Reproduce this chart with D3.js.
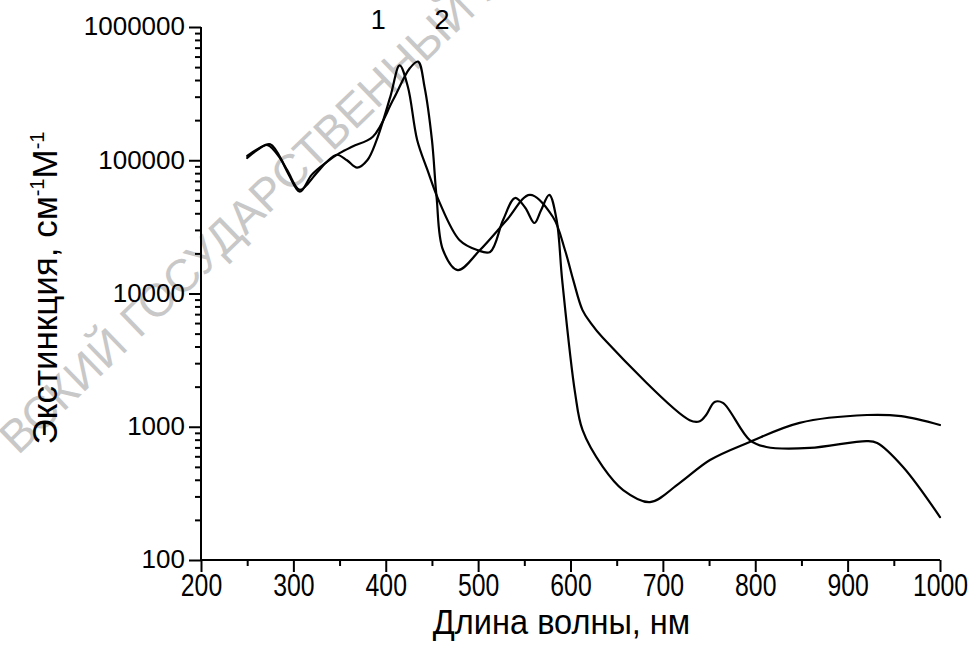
<!DOCTYPE html>
<html>
<head>
<meta charset="utf-8">
<script src="https://cdn.jsdelivr.net/npm/d3@7"></script>
<style>
  body { margin: 0; background: #fff; }
  svg { display: block; }
</style>
</head>
<body>
<div id="chart"></div>
<script>
//// data
// curve 1 (peak near 415 nm)
const wl1 = [250, 262, 275, 293, 307, 325, 336, 347, 358, 369, 380, 390, 405, 415, 424, 434, 445, 458, 480, 499, 513, 527, 540, 551, 561, 568, 577, 585, 591, 605, 613, 635, 657, 686, 718, 751, 794, 848, 921, 958, 1000]
const ext1 = [108000, 122000, 132000, 85000, 60000, 80000, 97000, 110000, 100000, 88000, 100000, 141000, 300000, 515000, 355000, 142000, 85000, 48700, 25100, 21200, 20500, 35600, 52100, 44000, 33800, 42000, 55000, 35600, 12600, 1790, 946, 500, 335, 272, 378, 563, 769, 1070, 1225, 1200, 1030]
// curve 2 (peak near 435 nm)
const wl2 = [250, 260, 272, 285, 295, 307, 320, 336, 350, 364, 386, 408, 426, 435, 442, 450, 455, 462, 478, 502, 531, 556, 581, 594, 603, 613, 622, 635, 729, 740, 747, 756, 765, 794, 812, 859, 921, 932, 960, 1000]
const ext2 = [104000, 118000, 130000, 105000, 78000, 58000, 78000, 97000, 113000, 127000, 150000, 284000, 490000, 550000, 355000, 142000, 53000, 21200, 15000, 21200, 35600, 55000, 37500, 21200, 12600, 7500, 6000, 4650, 1120, 1100, 1230, 1535, 1510, 795, 705, 693, 781, 755, 499, 210]
const curveLabels = ["1", "2"]
const xTicks = [200, 300, 400, 500, 600, 700, 800, 900, 1000]
const yTicks = [100, 1000, 10000, 100000, 1000000]

let width = 976
let height = 661
let margin = {top: 27, right: 36, bottom: 101, left: 201}

let x = d3.scaleLinear().domain([200, 1000]).range([margin.left, width - margin.right])
let y = d3.scaleLog().domain([100, 1000000]).range([height - margin.bottom, margin.top])

// minor ticks on log axis: 2..9 of each decade
let yMinor = []
for (let d = 100; d < 1000000; d *= 10) {
    for (let m = 2; m <= 9; m++) yMinor.push(d * m)
}
let xMinor = d3.range(250, 1000, 100)

const svg = d3.select("#chart").append("svg")
    .attr("width", width)
    .attr("height", height)
    .style("font-family", "'Liberation Sans', Arial, sans-serif")

//// watermark behind everything
svg.append("text")
    .attr("transform", "translate(18,456) rotate(-44)")
    .attr("fill", "#c8c8c8")
    .style("font-size", "46px")
    .text("ВСКИЙ ГОСУДАРСТВЕННЫЙ У")

//// axes
let xAxis = g => g.attr("transform", `translate(0,${y(100)})`)
    .call(d3.axisBottom(x).tickValues(xTicks).tickSize(12).tickPadding(2).tickFormat(d3.format("d")))
let xAxisMinor = g => g.attr("transform", `translate(0,${y(100)})`)
    .call(d3.axisBottom(x).tickValues(xMinor).tickSize(6).tickFormat(""))
let yAxis = g => g.attr("transform", `translate(${margin.left},0)`)
    .call(d3.axisLeft(y).tickValues(yTicks).tickSize(12).tickPadding(4).tickFormat(d3.format("d")))
let yAxisMinor = g => g.attr("transform", `translate(${margin.left},0)`)
    .call(d3.axisLeft(y).tickValues(yMinor).tickSize(6).tickFormat(""))

svg.append("g").call(xAxisMinor)
svg.append("g").call(yAxisMinor)
let gx = svg.append("g").call(xAxis)
let gy = svg.append("g").call(yAxis)
svg.selectAll(".domain, .tick line").attr("stroke", "#000").attr("stroke-width", 2)
svg.selectAll(".domain").attr("d", null)
gx.append("line").attr("x1", x(200)).attr("x2", x(1000)).attr("y1", 0).attr("y2", 0).attr("stroke", "#000").attr("stroke-width", 2)
gy.append("line").attr("x1", 0).attr("x2", 0).attr("y1", y(100)).attr("y2", y(1000000)).attr("stroke", "#000").attr("stroke-width", 2)
// x labels look condensed in the original
gx.selectAll(".tick text")
    .attr("fill", "#000")
    .attr("transform", "translate(0,13) scale(0.8,1) translate(0,-13)")
    .style("font-size", "31px")
gy.selectAll(".tick text")
    .attr("fill", "#000")
    .attr("dy", "0.3em")
    .style("font-size", "26px")

//// axis titles
svg.append("text")
    .attr("transform", `translate(${(x(200) + x(1000)) / 2 - 9},634) scale(0.93,1)`)
    .attr("text-anchor", "middle")
    .style("font-size", "35px")
    .text("Длина волны, нм")

let ty = svg.append("text")
    .attr("transform", `translate(57,${288}) rotate(-90)`)
    .attr("text-anchor", "middle")
    .style("font-size", "35px")
ty.append("tspan").text("Экстинкция, см")
ty.append("tspan").attr("dy", -13).style("font-size", "20px").text("-1")
ty.append("tspan").attr("dy", 13).text("М")
ty.append("tspan").attr("dy", -13).style("font-size", "20px").text("-1")

//// curves
let series = [
    {wl: wl1, ext: ext1},
    {wl: wl2, ext: ext2}
]
let line = d3.line()
    .x(d => x(d[0]))
    .y(d => y(d[1]))
    .curve(d3.curveCatmullRom.alpha(0.5))
for (let k = 0; k < series.length; k++) {
    let pts = series[k].wl.map((w, i) => [w, series[k].ext[i]])
    svg.append("path")
        .datum(pts)
        .attr("fill", "none")
        .attr("stroke", "#000")
        .attr("stroke-width", 2.2)
        .attr("stroke-linejoin", "round")
        .attr("stroke-linecap", "round")
        .attr("d", line)
}

//// curve labels
let labelPos = [[392, 1150000], [461, 1150000]]
for (let k = 0; k < curveLabels.length; k++) {
    svg.append("text")
        .attr("x", x(labelPos[k][0]))
        .attr("y", y(labelPos[k][1]))
        .attr("text-anchor", "middle")
        .attr("dy", "0.36em")
        .style("font-size", "27px")
        .text(curveLabels[k])
}
</script>
</body>
</html>
